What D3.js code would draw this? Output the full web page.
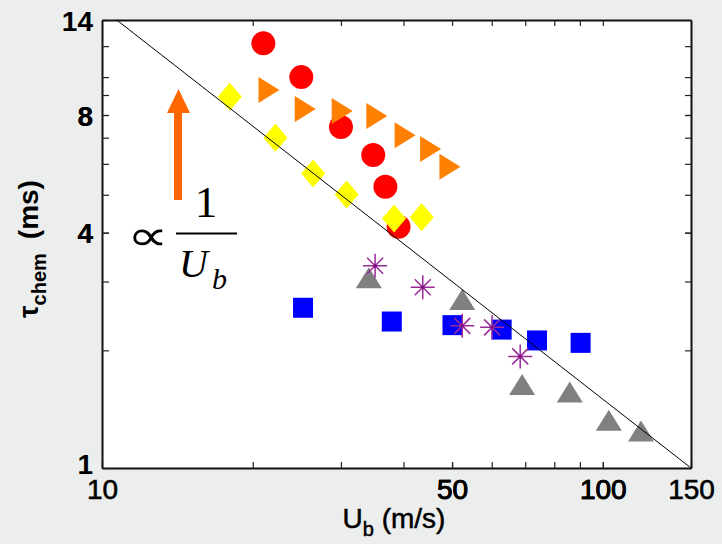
<!DOCTYPE html>
<html lang="en">
<head>
    <meta charset="UTF-8">
    <title>Chemical time vs bulk velocity</title>
    <script src="https://d3js.org/d3.v7.min.js"></script>
    <style>
        html, body { margin: 0; padding: 0; background: #eceeed; }
        svg { display: block; }
    </style>
</head>
<body>
    <svg id="chart"></svg>
    <script>
        // measured series, U_b in m/s, tau_chem in ms
        const redU = [21.0, 25.0, 30.0, 34.8, 36.8, 39.1];
        const redTau = [12.2, 10.0, 7.45, 6.32, 5.24, 4.14];
        const orangeU = [21.5, 25.4, 30.1, 35.3, 40.2, 45.2, 49.4];
        const orangeTau = [9.27, 8.29, 8.19, 7.95, 7.10, 6.55, 5.90];
        const yellowU = [18.0, 22.2, 26.4, 30.8, 38.3, 43.5];
        const yellowTau = [8.91, 7.0, 5.67, 5.01, 4.35, 4.38];
        const blueU = [25.2, 37.9, 50.1, 62.8, 73.9, 90.3];
        const blueTau = [2.57, 2.37, 2.32, 2.26, 2.12, 2.09];
        const grayU = [34.1, 52.4, 69.0, 85.9, 102.8, 119.2];
        const grayTau = [3.06, 2.69, 1.63, 1.56, 1.32, 1.24];
        const purpleU = [35.1, 43.7, 52.4, 60.1, 68.4];
        const purpleTau = [3.29, 2.90, 2.31, 2.29, 1.93];

        // 1/U_b guide line end points
        const guideU = [10.7, 150];
        const guideTau = [14, 1];

        const xTicks = [20, 30, 40, 50, 60, 70, 80, 90, 100];
        const xLabels = [10, 50, 100, 150];
        const yTicks = [2, 3, 4, 5, 6, 7, 8, 9, 10, 12];
        const yLabels = [1, 4, 8, 14];

        const W = 722, H = 544;
        const margin = { top: 20, right: 31, bottom: 76, left: 102 };
        const width = W - margin.left - margin.right;
        const height = H - margin.top - margin.bottom;
        const sans = "Liberation Sans, Arial, sans-serif";
        const serif = "Liberation Serif, Times New Roman, serif";

        const svg = d3.select("#chart")
            .attr("width", W)
            .attr("height", H);

        const g = svg.append("g")
            .attr("transform", `translate(${margin.left},${margin.top})`);

        const x = d3.scaleLog().domain([10, 150]).range([0, width]);
        const y = d3.scaleLog().domain([1, 14]).range([height, 0]);

        g.append("rect")
            .attr("width", width)
            .attr("height", height)
            .attr("fill", "#fff");

        const zip = (us, ts) => us.map((u, i) => ({ u: u, t: ts[i] }));

        // red circles
        g.selectAll(".red")
            .data(zip(redU, redTau))
            .enter().append("circle")
            .attr("cx", d => x(d.u))
            .attr("cy", d => y(d.t))
            .attr("r", 12)
            .attr("fill", "#ff0000");

        // orange right-pointing triangles
        g.selectAll(".orange")
            .data(zip(orangeU, orangeTau))
            .enter().append("path")
            .attr("transform", d => `translate(${x(d.u)},${y(d.t)})`)
            .attr("d", "M-10,-13L11,0L-10,13Z")
            .attr("fill", "#ff8000");

        // yellow diamonds
        g.selectAll(".yellow")
            .data(zip(yellowU, yellowTau))
            .enter().append("path")
            .attr("transform", d => `translate(${x(d.u)},${y(d.t)})`)
            .attr("d", "M0,-14L12,0L0,14L-12,0Z")
            .attr("fill", "#ffff00");

        // blue squares
        g.selectAll(".blue")
            .data(zip(blueU, blueTau))
            .enter().append("rect")
            .attr("x", d => x(d.u) - 10)
            .attr("y", d => y(d.t) - 10)
            .attr("width", 20)
            .attr("height", 20)
            .attr("fill", "#0000ff");

        // gray up triangles
        g.selectAll(".gray")
            .data(zip(grayU, grayTau))
            .enter().append("path")
            .attr("transform", d => `translate(${x(d.u)},${y(d.t)})`)
            .attr("d", "M0,-11L13,10L-13,10Z")
            .attr("fill", "#808080");

        // purple asterisks
        const star = g.selectAll(".purple")
            .data(zip(purpleU, purpleTau))
            .enter().append("g")
            .attr("transform", d => `translate(${x(d.u)},${y(d.t)})`)
            .attr("stroke", "#9a2a9a")
            .attr("stroke-width", 1.5);
        star.append("path").attr("d", "M-12,0H12M0,-12V12M-8,-8L8,8M-8,8L8,-8");
        star.append("circle").attr("r", 1.6).attr("fill", "#7a107a").attr("stroke", "none");

        // guide line
        g.append("line")
            .attr("x1", x(guideU[0])).attr("y1", y(guideTau[0]))
            .attr("x2", x(guideU[1])).attr("y2", y(guideTau[1]))
            .attr("stroke", "#000")
            .attr("stroke-width", 1);

        // axes, ticks pointing inward
        const fmtX = d => xLabels.includes(d) ? d : "";
        const fmtY = d => yLabels.includes(d) ? d : "";

        const bottom = g.append("g")
            .attr("transform", `translate(0,${height})`)
            .call(d3.axisBottom(x).tickValues(xLabels.concat(xTicks)).tickFormat(fmtX)
                .tickSizeInner(-6).tickSizeOuter(0).tickPadding(11));
        const left = g.append("g")
            .call(d3.axisLeft(y).tickValues(yLabels.concat(yTicks)).tickFormat(fmtY)
                .tickSizeInner(-7).tickSizeOuter(0).tickPadding(9));
        g.append("g")
            .call(d3.axisTop(x).tickValues(xTicks).tickFormat("")
                .tickSizeInner(-6).tickSizeOuter(0));
        g.append("g")
            .attr("transform", `translate(${width},0)`)
            .call(d3.axisRight(y).tickValues(yTicks.concat([8, 4])).tickFormat("")
                .tickSizeInner(-6).tickSizeOuter(0));

        g.selectAll(".domain").attr("stroke", "#111").attr("stroke-width", 2);
        g.selectAll(".tick line").attr("stroke", "#222").attr("stroke-width", 1.2);

        bottom.selectAll("text")
            .attr("font-family", sans)
            .attr("font-size", 28)
            .attr("fill", "#000")
            .attr("stroke", "#000")
            .attr("stroke-width", 0.6);
        left.selectAll("text")
            .attr("font-family", sans)
            .attr("font-size", 28)
            .attr("font-weight", "bold")
            .attr("fill", "#000")
            .attr("dy", d => d === 1 ? "0.2em" : "0.36em");

        // axis titles
        const yTitle = svg.append("text")
            .attr("transform", "translate(38,249) rotate(-90)")
            .attr("text-anchor", "middle")
            .attr("font-family", sans)
            .attr("font-weight", "bold")
            .attr("font-size", 28);
        yTitle.append("tspan").text("τ");
        yTitle.append("tspan").attr("font-size", 20).attr("dy", 8).text("chem");
        yTitle.append("tspan").attr("dy", -8).text("\u2002(ms)");

        const xTitle = svg.append("text")
            .attr("x", 394)
            .attr("y", 528)
            .attr("text-anchor", "middle")
            .attr("font-family", sans)
            .attr("font-size", 28)
            .attr("stroke", "#000")
            .attr("stroke-width", 0.5);
        xTitle.append("tspan").text("U");
        xTitle.append("tspan").attr("font-size", 20).attr("dy", 8).text("b");
        xTitle.append("tspan").attr("dy", -8).text(" (m/s)");

        // annotation: orange arrow and proportionality
        svg.append("path")
            .attr("d", "M174,200V113H167L178.5,89L190,113H182V200Z")
            .attr("fill", "#ff6600");

        svg.append("text")
            .attr("transform", "translate(148,250) scale(1.45,1.05)")
            .attr("text-anchor", "middle")
            .attr("font-family", serif)
            .attr("font-size", 40)
            .text("∝");
        svg.append("text")
            .attr("x", 206).attr("y", 217)
            .attr("text-anchor", "middle")
            .attr("font-family", serif)
            .attr("font-size", 45)
            .text("1");
        svg.append("line")
            .attr("x1", 176).attr("x2", 237)
            .attr("y1", 233.5).attr("y2", 233.5)
            .attr("stroke", "#000").attr("stroke-width", 2);
        const ub = svg.append("text")
            .attr("x", 179).attr("y", 277)
            .attr("font-family", serif)
            .attr("font-style", "italic")
            .attr("font-size", 40);
        ub.append("tspan").text("U");
        ub.append("tspan").attr("font-size", 30).attr("dx", 4).attr("dy", 12).text("b");
    </script>
</body>
</html>
